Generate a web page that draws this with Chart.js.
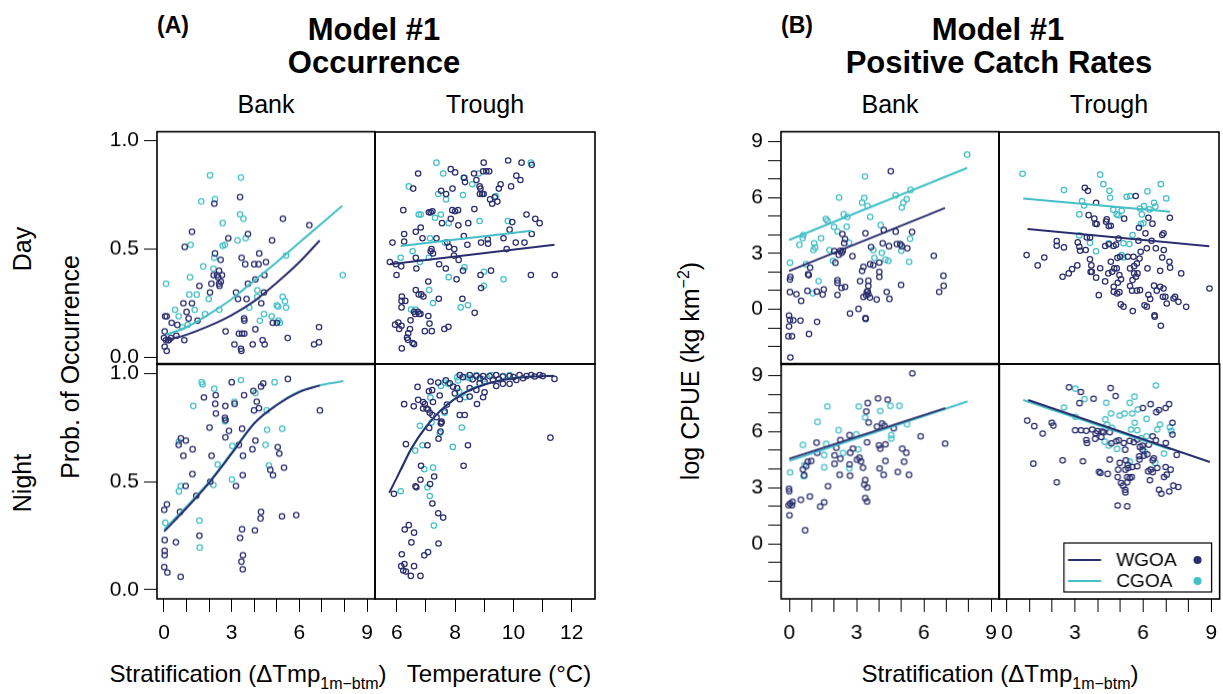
<!DOCTYPE html>
<html>
<head>
<meta charset="utf-8">
<script src="https://cdn.jsdelivr.net/npm/chart.js@4.4.0/dist/chart.umd.min.js"></script>
<style>
body{margin:0;background:#fff;}
#fig{position:relative;width:1223px;height:694px;overflow:hidden;font-family:"Liberation Sans",Arial,Helvetica,sans-serif;color:#000;}
#fig canvas{position:absolute;}
.t{position:absolute;white-space:nowrap;line-height:1;transform:translate(-50%,-50%);}
.r{transform:translate(-50%,-50%) rotate(-90deg);}
.b{font-weight:bold;}
.s{font-size:16px;position:relative;top:7px;}
.sp{font-size:16px;position:relative;top:-10px;}
</style>
</head>
<body>
<div id="fig">
  <div class="t b" style="left:173px;top:25px;font-size:23px">(A)</div>
  <div class="t b" style="left:374px;top:29px;font-size:31px">Model #1</div>
  <div class="t b" style="left:374px;top:62px;font-size:31px">Occurrence</div>
  <div class="t b" style="left:797px;top:25px;font-size:23px">(B)</div>
  <div class="t b" style="left:998px;top:29px;font-size:31px">Model #1</div>
  <div class="t b" style="left:999px;top:62px;font-size:31px">Positive Catch Rates</div>

  <div class="t" style="left:266px;top:104px;font-size:25px">Bank</div>
  <div class="t" style="left:485px;top:104px;font-size:25px">Trough</div>
  <div class="t" style="left:890px;top:104px;font-size:25px">Bank</div>
  <div class="t" style="left:1109px;top:104px;font-size:25px">Trough</div>

  <div class="t r" style="left:22px;top:249px;font-size:25px">Day</div>
  <div class="t r" style="left:22px;top:483px;font-size:25px">Night</div>
  <div class="t r" style="left:70px;top:367px;font-size:25px">Prob. of Occurrence</div>
  <div class="t r" style="left:690px;top:371px;font-size:25px">log CPUE (kg km<span class="sp">−2</span>)</div>

  <div class="t" style="left:248px;top:674px;font-size:24px">Stratification (ΔTmp<span class="s">1m−btm</span>)</div>
  <div class="t" style="left:499px;top:674px;font-size:24px">Temperature (°C)</div>
  <div class="t" style="left:1000px;top:674px;font-size:24px">Stratification (ΔTmp<span class="s">1m−btm</span>)</div>
</div>
<script>
// ---- tick values ----
const occYTicks = [0, 0.5, 1];
const strTicks = [0, 1, 2, 3, 4, 5, 6, 7, 8, 9];
const strLabels = [0, 3, 6, 9];
const tempTicks = [6, 7, 8, 9, 10, 11, 12];
const tempLabels = [6, 8, 10, 12];
const cpueYTicks = [-2, -1, 0, 1, 2, 3, 4, 5, 6, 7, 8, 9];
const cpueYLabels = [0, 3, 6, 9];
const seriesNames = ['WGOA', 'CGOA'];

// ---- (A) occurrence, day, bank ----
const occDayBankW = [[3.37,0.74],[2.23,0.71],[1.24,0.58],[5.27,0.64],[6.44,0.61],[0.92,0.51],[2.85,0.55],[3.72,0.57],[4.79,0.54],[2.26,0.48],[2.51,0.45],[3.44,0.46],[4.22,0.48],[3.6,0.43],[4.0,0.43],[4.19,0.43],[4.52,0.44],[2.44,0.40],[2.2,0.38],[2.35,0.38],[2.57,0.38],[2.4,0.37],[2.1,0.34],[2.44,0.34],[2.52,0.35],[2.46,0.33],[1.57,0.33],[2.04,0.30],[3.72,0.34],[4.05,0.36],[4.45,0.38],[3.19,0.30],[3.28,0.27],[3.66,0.27],[4.43,0.30],[4.31,0.25],[0.86,0.25],[1.24,0.25],[1.0,0.21],[1.09,0.18],[1.49,0.17],[0.34,0.16],[0.59,0.15],[0.05,0.19],[0.12,0.19],[0.03,0.12],[0.0,0.09],[0.09,0.08],[0.21,0.08],[0.03,0.05],[0.12,0.03],[0.19,0.08],[0.31,0.09],[0.55,0.10],[0.9,0.08],[2.73,0.12],[3.32,0.11],[3.46,0.11],[3.56,0.11],[3.55,0.18],[3.56,0.17],[3.41,0.04],[3.43,0.03],[3.12,0.06],[3.93,0.06],[4.05,0.13],[4.37,0.08],[4.46,0.06],[4.82,0.16],[5.0,0.16],[5.48,0.09],[6.65,0.06],[6.87,0.07],[6.87,0.14]];
const occDayBankC = [[2.04,0.84],[3.41,0.83],[1.65,0.72],[2.26,0.73],[3.37,0.66],[3.52,0.64],[2.6,0.62],[1.18,0.52],[2.6,0.515],[2.7,0.52],[3.26,0.54],[3.62,0.55],[2.23,0.46],[5.41,0.47],[7.92,0.38],[0.09,0.34],[1.74,0.42],[2.19,0.41],[1.15,0.37],[1.12,0.29],[1.45,0.29],[1.98,0.27],[0.49,0.22],[0.65,0.19],[1.36,0.22],[1.82,0.20],[2.45,0.22],[0.81,0.14],[1.05,0.15],[4.14,0.31],[4.13,0.28],[3.78,0.23],[4.43,0.2],[4.25,0.17],[4.77,0.19],[5.0,0.24],[5.06,0.235],[5.26,0.28],[5.36,0.26],[5.41,0.23],[5.07,0.17],[5.14,0.16]];
const occDayBankWFit = [[0.1,0.08],[1,0.105],[2,0.145],[3,0.195],[4,0.26],[5,0.345],[6,0.44],[6.9,0.54]];
const occDayBankCFit = [[0.1,0.105],[1,0.14],[2,0.20],[3,0.27],[4,0.355],[5,0.44],[6,0.53],[7,0.62],[7.9,0.70]];

// ---- (A) occurrence, day, trough ----
const occDayTroughW = [[9.82,0.91],[8.98,0.90],[10.28,0.90],[10.63,0.89],[6.73,0.85],[7.85,0.87],[8.0,0.855],[8.3,0.83],[8.34,0.81],[8.65,0.85],[8.96,0.86],[9.07,0.86],[9.17,0.86],[8.73,0.82],[8.84,0.79],[8.87,0.78],[8.85,0.755],[8.93,0.755],[8.98,0.755],[10.1,0.84],[10.24,0.82],[9.56,0.80],[9.5,0.78],[9.92,0.79],[6.56,0.78],[7.52,0.77],[7.69,0.755],[7.91,0.78],[9.2,0.73],[9.36,0.74],[9.45,0.72],[9.27,0.71],[6.22,0.68],[7.1,0.67],[7.16,0.67],[7.22,0.675],[7.9,0.68],[8.0,0.675],[8.1,0.68],[8.66,0.685],[7.55,0.62],[7.85,0.64],[8.11,0.61],[8.45,0.62],[10.45,0.66],[10.75,0.64],[10.9,0.62],[9.96,0.625],[9.87,0.59],[10.63,0.57],[6.82,0.60],[6.65,0.58],[6.25,0.57],[6.25,0.535],[6.88,0.55],[7.36,0.55],[8.3,0.56],[9.12,0.545],[8.89,0.53],[9.13,0.525],[9.66,0.55],[10.08,0.53],[10.38,0.53],[5.85,0.53],[7.19,0.50],[7.24,0.48],[7.16,0.49],[7.73,0.53],[7.79,0.51],[7.97,0.50],[7.96,0.47],[8.42,0.52],[9.77,0.50],[5.76,0.44],[5.97,0.43],[6.15,0.42],[5.99,0.38],[6.65,0.46],[6.67,0.41],[7.45,0.43],[7.68,0.41],[8.12,0.45],[8.27,0.40],[9.23,0.40],[8.87,0.38],[8.05,0.36],[7.08,0.35],[10.6,0.38],[11.42,0.38],[8.89,0.32],[6.65,0.31],[6.75,0.29],[6.84,0.29],[6.91,0.28],[6.17,0.28],[6.16,0.26],[6.29,0.26],[6.16,0.23],[7.44,0.27],[8.25,0.27],[6.59,0.21],[6.72,0.21],[6.77,0.20],[6.81,0.20],[6.63,0.20],[7.08,0.19],[8.67,0.205],[6.47,0.17],[7.12,0.155],[5.94,0.15],[6.05,0.16],[6.16,0.145],[6.08,0.13],[6.39,0.11],[6.45,0.13],[6.35,0.09],[6.38,0.08],[6.54,0.065],[6.59,0.06],[6.96,0.12],[7.2,0.12],[7.63,0.13],[7.77,0.14],[6.17,0.04]];
const occDayTroughC = [[7.36,0.90],[7.59,0.85],[6.41,0.79],[8.33,0.83],[8.59,0.80],[8.81,0.85],[10.6,0.90],[7.42,0.755],[7.69,0.73],[8.27,0.75],[9.39,0.745],[6.75,0.66],[6.82,0.66],[7.51,0.66],[7.31,0.645],[7.78,0.62],[8.84,0.63],[9.81,0.63],[7.14,0.55],[7.65,0.53],[6.54,0.49],[6.13,0.46],[7.1,0.46],[6.79,0.44],[8.32,0.415],[8.99,0.395],[7.78,0.37],[9.66,0.36],[8.99,0.33],[7.11,0.31],[7.24,0.25],[6.49,0.22],[6.64,0.22],[8.19,0.23],[8.44,0.24]];
const occDayTroughWFit = [[5.76,0.43],[8.6,0.475],[11.41,0.52]];
const occDayTroughCFit = [[6.13,0.514],[8.4,0.55],[10.63,0.585]];

// ---- (A) occurrence, night, bank ----
const occNightBankW = [[3.0,0.96],[5.49,0.975],[4.3,0.94],[4.4,0.955],[1.77,0.89],[2.29,0.90],[3.55,0.90],[3.96,0.92],[2.27,0.86],[2.72,0.85],[3.13,0.86],[4.11,0.87],[4.21,0.84],[3.99,0.83],[6.91,0.83],[2.3,0.815],[2.7,0.795],[2.73,0.785],[2.02,0.75],[2.88,0.735],[3.46,0.745],[2.72,0.705],[0.75,0.70],[0.97,0.69],[0.65,0.67],[1.27,0.65],[0.86,0.62],[2.11,0.62],[3.32,0.67],[4.05,0.69],[3.92,0.65],[5.04,0.66],[5.11,0.63],[3.5,0.62],[4.71,0.555],[5.32,0.565],[4.83,0.53],[1.26,0.535],[3.49,0.53],[0.96,0.48],[3.19,0.48],[2.05,0.50],[1.43,0.435],[0.71,0.36],[0.13,0.395],[0.01,0.37],[4.3,0.36],[4.28,0.33],[5.23,0.34],[5.86,0.345],[1.57,0.25],[3.46,0.28],[4.03,0.275],[3.37,0.24],[0.53,0.22],[0.03,0.23],[0.03,0.18],[0.03,0.16],[0.01,0.105],[0.15,0.08],[0.74,0.06],[3.5,0.16],[3.43,0.13],[3.49,0.095]];
const occNightBankC = [[1.67,0.96],[1.71,0.95],[2.23,0.93],[3.41,0.97],[4.9,0.96],[4.05,0.91],[3.12,0.87],[1.3,0.85],[2.7,0.78],[4.55,0.83],[4.57,0.74],[5.24,0.745],[4.5,0.67],[0.66,0.685],[0.66,0.455],[0.74,0.48],[3.03,0.665],[2.38,0.58],[4.65,0.575],[3.01,0.51],[2.19,0.485],[0.06,0.31],[1.57,0.32],[1.58,0.195]];
const occNightBankWFit = [[0.01,0.27],[1,0.378],[2,0.495],[3,0.63],[4,0.77],[5,0.855],[6,0.915],[6.9,0.945]];
const occNightBankCFit = [[0.01,0.28],[1,0.385],[2,0.50],[3,0.635],[4,0.77],[5,0.856],[6,0.918],[7,0.948],[7.95,0.965]];

// ---- (A) occurrence, night, trough ----
const occNightTroughW = [[6.71,0.94],[7.16,0.965],[7.42,0.96],[7.68,0.97],[7.1,0.92],[7.21,0.925],[7.47,0.90],[6.25,0.86],[6.73,0.88],[6.9,0.87],[6.96,0.86],[7.24,0.87],[6.58,0.85],[6.9,0.84],[7.02,0.84],[7.07,0.835],[7.13,0.82],[7.22,0.81],[7.36,0.80],[7.53,0.775],[7.51,0.77],[7.11,0.75],[7.43,0.70],[6.31,0.675],[7.05,0.67],[8.16,0.81],[8.33,0.81],[8.44,0.67],[8.29,0.575],[6.83,0.575],[7.28,0.525],[6.81,0.51],[6.64,0.48],[6.67,0.475],[7.14,0.49],[7.22,0.40],[7.42,0.355],[7.59,0.335],[6.41,0.30],[6.27,0.28],[6.59,0.265],[6.5,0.22],[7.43,0.215],[7.07,0.175],[6.94,0.16],[6.17,0.165],[6.15,0.11],[6.26,0.12],[6.22,0.09],[6.31,0.085],[6.59,0.11],[6.48,0.065],[6.81,0.065],[5.9,0.445],[11.27,0.705],[11.41,0.977],[8.16,0.995],[8.27,0.985],[8.5,0.995],[8.73,0.99],[8.96,0.99],[9.18,0.99],[9.41,0.995],[9.64,0.988],[9.87,0.99],[10.21,0.995],[10.61,0.995],[10.73,0.988],[11.01,0.99],[10.9,0.995],[9.01,0.965],[8.84,0.957],[9.41,0.944],[9.64,0.954],[9.87,0.954],[10.1,0.972],[10.33,0.98],[8.5,0.934],[8.73,0.926],[9.01,0.915],[8.96,0.892],[8.75,0.861],[8.07,0.934],[7.99,0.91],[8.16,0.883],[8.5,0.895],[7.72,0.858],[7.64,0.827],[7.53,0.779],[7.5,0.733],[7.82,0.957],[7.93,0.941],[9.3,0.97],[9.5,0.975],[10.0,0.985],[10.45,0.99],[8.6,0.975],[8.85,0.98]];
const occNightTroughC = [[6.13,0.457],[6.79,0.76],[7.15,0.89],[7.51,0.944],[7.76,0.954],[8.07,0.985],[8.39,0.985],[8.14,0.918],[8.35,0.892],[7.64,0.82],[7.47,0.725],[8.23,0.752],[7.92,0.662],[6.88,0.67],[6.63,0.645],[6.94,0.559],[7.24,0.566],[7.05,0.475],[7.13,0.435],[7.27,0.298],[8.73,0.995],[9.24,0.995],[9.64,0.99],[9.87,0.995],[8.96,0.975],[7.64,0.96],[8.1,0.97],[8.5,0.98],[7.19,0.775]];
const occNightTroughWFit = [[5.74,0.45],[6.0,0.52],[6.5,0.655],[7.0,0.755],[7.5,0.83],[8.0,0.885],[8.5,0.925],[9.0,0.95],[9.5,0.968],[10,0.98],[10.5,0.987],[11.4,0.992]];
const occNightTroughCFit = [[6.16,0.56],[6.5,0.655],[7.0,0.755],[7.5,0.832],[8.0,0.887],[8.5,0.927],[9.0,0.952],[9.5,0.969],[10,0.981],[10.6,0.988]];

// ---- (B) catch rates, day, bank ----
const cpueDayBankW = [[4.54,7.41],[2.38,4.04],[2.5,3.77],[2.46,3.55],[3.41,4.08],[4.23,4.25],[4.76,4.17],[5.49,4.15],[4.18,3.54],[4.46,3.39],[4.81,3.5],[4.96,3.5],[5.03,3.39],[3.66,3.34],[5.28,3.27],[2.02,3.12],[2.28,3.14],[2.4,3.14],[2.22,2.93],[2.35,3.03],[2.83,2.85],[2.07,2.5],[0.94,2.24],[0.85,1.88],[0.88,1.83],[3.26,2.06],[3.32,2.28],[3.62,2.42],[3.76,2.37],[4.03,2.51],[4.03,2.01],[4.03,1.74],[0.06,1.74],[0.04,1.6],[0.04,0.92],[0.33,0.81],[0.54,0.45],[0.82,0.99],[1.24,0.95],[1.5,0.79],[1.55,1.06],[2.16,1.56],[2.16,1.42],[2.5,1.2],[2.34,1.15],[2.16,0.77],[3.17,1.51],[3.54,1.53],[3.54,1.26],[3.51,0.97],[3.54,0.81],[3.61,0.63],[3.32,0.66],[3.44,0.75],[3.47,0.93],[3.91,0.52],[4.36,0.93],[4.48,0.56],[5.0,1.31],[6.46,2.87],[6.89,1.8],[6.9,1.26],[6.7,0.93],[3.1,0.02],[2.72,-0.23],[3.41,-0.47],[3.42,-0.52],[0.0,-0.34],[0.04,-0.57],[0.19,-0.59],[0.51,-0.61],[1.25,-0.68],[0.0,-0.92],[-0.03,-1.45],[0.13,-1.45],[0.89,-1.33],[0.06,-2.59]];
const cpueDayBankC = [[7.95,8.31],[3.39,7.13],[2.23,6.0],[3.36,5.98],[3.26,5.73],[3.5,5.55],[4.76,6.12],[5.42,6.41],[5.25,5.91],[5.1,5.73],[5.03,5.46],[2.44,5.1],[2.6,4.96],[3.62,4.96],[1.64,4.85],[1.71,4.76],[2.01,4.42],[2.16,4.18],[2.57,4.43],[4.09,4.52],[0.64,3.99],[0.61,3.82],[1.43,3.81],[0.46,3.46],[1.12,3.54],[1.16,3.32],[1.09,3.18],[1.8,3.18],[2.68,3.57],[5.4,3.79],[4.97,3.48],[5.01,3.14],[3.76,3.18],[4.14,3.03],[4.3,2.67],[4.43,2.6],[3.81,2.76],[1.96,2.6],[5.36,2.55],[0.04,2.5],[0.76,2.42],[1.32,1.51],[1.06,0.86]];
const cpueDayBankWFit = [[0,2.06],[6.96,5.44]];
const cpueDayBankCFit = [[0,3.72],[7.95,7.59]];

// ---- (B) catch rates, day, trough ----
const cpueDayTroughW = [[3.44,6.53],[3.58,6.37],[5.69,6.09],[3.94,5.73],[3.61,5.06],[3.86,4.87],[3.91,4.6],[3.97,4.58],[4.41,4.83],[4.38,4.71],[4.5,4.47],[4.59,4.49],[5.18,4.87],[6.25,4.92],[6.43,4.6],[7.2,4.92],[5.83,4.38],[6.12,4.08],[6.86,3.99],[6.92,4.08],[3.53,3.86],[3.67,3.86],[2.2,3.66],[2.2,3.41],[2.52,3.32],[3.13,3.59],[3.2,3.36],[3.23,3.14],[3.48,3.18],[4.34,3.4],[4.5,3.49],[4.71,3.4],[4.82,3.47],[4.93,3.8],[5.81,3.68],[6.39,3.68],[6.18,3.27],[6.58,3.27],[6.93,3.18],[0.87,2.91],[1.36,2.35],[1.65,2.78],[3.67,2.68],[3.73,2.35],[3.7,2.0],[4.12,2.2],[4.59,2.55],[4.88,2.76],[5.0,2.82],[5.34,2.82],[5.59,2.82],[5.91,3.09],[5.86,2.72],[5.74,2.45],[5.62,2.31],[6.21,2.19],[6.86,2.78],[7.18,2.55],[7.21,2.23],[6.77,2.06],[2.46,1.74],[2.73,1.92],[2.88,2.15],[3.11,2.35],[3.75,2.01],[3.94,1.69],[4.34,1.49],[4.48,1.92],[4.65,2.01],[4.74,2.19],[4.85,2.19],[4.97,1.83],[5.04,1.6],[4.9,1.42],[4.72,1.2],[4.72,0.93],[4.87,0.84],[4.97,0.91],[5.44,2.19],[5.62,1.92],[5.77,1.92],[5.7,1.74],[5.55,1.56],[5.44,1.24],[5.53,0.99],[5.74,0.99],[5.88,1.02],[6.25,0.77],[6.33,0.54],[6.5,1.26],[6.62,0.99],[6.77,1.2],[6.92,1.11],[7.0,0.66],[7.06,0.3],[6.89,0.66],[7.36,0.57],[7.43,0.66],[7.58,0.39],[7.7,1.92],[7.92,0.12],[8.95,1.11],[4.06,0.75],[5.03,0.25],[5.15,0.13],[5.56,-0.11],[6.08,0.2],[6.18,0.13],[6.52,-0.34],[6.53,-0.41],[6.8,-0.9]];
const cpueDayTroughC = [[0.69,7.29],[2.52,6.41],[4.12,7.24],[4.26,6.73],[4.53,6.37],[4.56,6.0],[5.29,6.05],[5.44,6.09],[6.21,6.34],[6.8,6.73],[7.04,5.96],[3.32,5.82],[3.41,5.58],[4.7,5.35],[4.85,5.1],[5.07,5.3],[4.93,5.05],[3.2,5.1],[5.88,5.42],[6.06,5.55],[6.3,5.37],[6.5,5.73],[6.56,5.52],[5.96,5.1],[5.92,4.58],[6.03,4.62],[3.2,3.97],[3.67,3.57],[4.5,3.54],[5.15,3.54],[5.41,3.5],[5.55,3.99],[3.94,3.11],[5.07,2.91],[5.15,2.78]];
const cpueDayTroughWFit = [[0.91,4.31],[8.94,3.39]];
const cpueDayTroughCFit = [[0.72,5.96],[7.21,5.24]];

// ---- (B) catch rates, night, bank ----
const cpueNightBankW = [[5.49,9.12],[3.96,7.78],[4.39,7.71],[3.5,7.53],[3.44,7.08],[3.54,6.49],[1.22,5.41],[1.25,4.87],[2.28,5.54],[2.1,5.14],[2.69,5.81],[3.47,5.43],[3.91,6.27],[4.14,6.43],[4.24,6.31],[4.66,6.18],[4.0,5.27],[4.06,5.09],[4.29,5.32],[5.86,5.75],[6.95,5.36],[5.04,5.09],[5.22,4.87],[2.84,5.09],[2.72,4.87],[2.02,4.73],[2.02,4.28],[2.28,4.55],[3.13,4.6],[3.02,4.5],[3.2,4.41],[3.29,4.07],[2.69,4.25],[2.71,3.64],[4.03,4.03],[4.21,3.69],[4.29,4.43],[5.12,4.39],[4.84,3.84],[5.34,3.69],[2.25,3.69],[0.61,3.98],[0.76,4.16],[0.83,4.39],[0.98,4.43],[0.67,3.66],[-0.01,2.94],[0.0,2.81],[-0.03,2.06],[0.04,2.15],[0.15,2.24],[0.12,2.06],[0.01,1.52],[0.52,2.35],[0.92,2.53],[1.38,1.99],[1.56,2.22],[1.73,3.08],[3.39,3.41],[3.48,3.01],[3.35,3.17],[3.39,2.44],[3.47,2.26],[0.71,0.72]];
const cpueNightBankC = [[1.7,7.35],[3.1,7.35],[4.06,7.11],[4.51,7.38],[4.91,7.38],[1.26,6.52],[3.39,6.76],[2.2,6.08],[2.99,5.86],[0.61,5.29],[1.65,5.34],[3.08,5.05],[1.56,4.75],[2.4,4.86],[1.56,4.09],[2.68,4.03],[0.68,4.21],[0.64,3.62],[0.04,3.82],[4.55,5.81],[4.55,5.63],[5.25,6.4]];
const cpueNightBankWFit = [[0,4.55],[6.96,7.26]];
const cpueNightBankCFit = [[0,4.43],[7.95,7.62]];

// ---- (B) catch rates, night, trough ----
const cpueNightTroughW = [[2.74,8.39],[3.26,8.14],[3.2,7.54],[3.82,7.78],[4.57,8.35],[4.79,7.92],[5.99,7.28],[6.33,7.49],[7.14,7.49],[6.99,7.28],[6.58,7.06],[6.7,7.17],[0.9,6.61],[1.21,6.31],[1.58,5.91],[1.98,6.49],[2.05,6.34],[3.01,6.09],[3.27,6.09],[3.5,6.06],[3.76,6.13],[3.91,5.93],[4.0,6.04],[4.19,6.02],[4.26,5.98],[3.5,5.57],[3.53,5.41],[3.89,5.63],[4.16,5.73],[4.53,5.99],[4.6,5.39],[4.82,5.5],[4.93,5.55],[5.15,5.41],[5.21,5.05],[5.41,5.52],[5.59,5.45],[5.74,5.59],[5.86,5.2],[5.97,5.27],[5.97,5.05],[6.25,5.32],[6.42,5.77],[6.56,5.55],[7.29,6.49],[7.29,5.86],[7.0,5.41],[5.83,4.7],[6.03,4.73],[6.18,4.8],[6.47,4.59],[6.42,4.48],[1.17,4.3],[2.46,4.48],[3.35,4.43],[4.53,4.52],[4.97,4.34],[5.24,4.48],[5.32,4.23],[5.52,4.12],[5.74,4.16],[5.84,4.52],[4.9,3.98],[5.22,3.98],[5.34,4.07],[4.88,3.58],[5.3,3.58],[5.41,3.53],[5.5,3.58],[5.03,3.26],[5.3,3.3],[5.12,3.12],[5.21,2.9],[5.22,2.76],[4.06,3.87],[4.12,3.8],[4.44,3.75],[6.22,3.89],[6.33,3.98],[6.42,3.84],[6.62,4.07],[6.99,4.12],[7.21,3.98],[7.04,3.71],[6.92,3.58],[6.3,3.41],[6.7,2.9],[6.8,2.69],[7.15,2.81],[7.33,3.12],[7.55,3.05],[7.48,4.77],[2.2,3.3],[4.88,2.06],[5.3,2.01]];
const cpueNightTroughC = [[6.56,8.49],[3.02,8.32],[3.42,7.76],[4.38,7.56],[5.41,7.56],[5.62,7.89],[2.52,7.31],[3.02,6.81],[4.34,6.67],[4.59,6.99],[4.97,6.88],[5.18,6.99],[5.52,6.99],[5.77,7.2],[6.15,6.7],[6.74,6.4],[6.62,6.13],[7.18,6.25],[7.24,6.04],[4.41,6.38],[4.63,6.22],[5.63,6.49],[5.47,6.13],[5.74,6.09],[4.31,5.48],[4.49,5.27],[4.85,5.09],[5.91,5.66],[6.15,5.77],[6.06,4.95],[6.92,4.84],[5.41,4.41],[6.53,4.34]];
const cpueNightTroughWFit = [[0.94,7.71],[8.94,4.39]];
const cpueNightTroughCFit = [[0.72,7.71],[7.21,5.05]];

const NAVY = '#2b2e6e';
const TEAL = '#45bfc7';
Chart.defaults.font.family = '"Liberation Sans", Arial, Helvetica, sans-serif';

function toPts(a) { return a.map(p => ({x: p[0], y: p[1]})); }

function pointSet(a, col) {
  return {data: toPts(a), borderColor: col, pointBorderColor: col,
    pointBackgroundColor: 'rgba(0,0,0,0)', pointRadius: 2.7, pointBorderWidth: 1.25, order: 2};
}
function fitSet(a, col, curved) {
  return {data: toPts(a), showLine: true, borderColor: col, borderWidth: 2, pointRadius: 0,
    cubicInterpolationMode: curved ? 'monotone' : 'default', tension: curved ? 0.4 : 0, order: 1};
}

function axis(min, max, ticks, labeled, fmt, show, size, isY) {
  return {
    type: 'linear', min: min, max: max,
    afterBuildTicks: s => { s.ticks = ticks.map(v => ({value: v})); },
    afterFit: s => { if (isY) s.width = size; else s.height = size; },
    ticks: {display: show, autoSkip: false, maxRotation: 0, minRotation: 0,
      padding: isY ? 5 : 9, color: '#000', font: {size: 21},
      callback: v => labeled.includes(v) ? fmt(v) : ''},
    grid: {display: show, drawOnChartArea: false, drawTicks: true, tickLength: 13, color: '#000', lineWidth: 1},
    border: {display: false}
  };
}

const boxPlugin = {
  id: 'box',
  afterDatasetsDraw(c) {
    const a = c.chartArea, ctx = c.ctx;
    ctx.save();
    ctx.strokeStyle = '#000';
    ctx.lineWidth = 1.6;
    ctx.strokeRect(a.left, a.top, a.right - a.left, a.bottom - a.top);
    ctx.restore();
  }
};

const legendPlugin = {
  id: 'lgd',
  afterDraw(c) {
    const a = c.chartArea, ctx = c.ctx;
    const L = a.right - 155, T = a.bottom - 56;
    ctx.save();
    ctx.fillStyle = '#fff';
    ctx.fillRect(L, T, 147, 49);
    ctx.strokeStyle = '#000';
    ctx.lineWidth = 1.2;
    ctx.strokeRect(L, T, 147, 49);
    [NAVY, TEAL].forEach((col, i) => {
      const y = T + 17 + i * 21;
      ctx.strokeStyle = col;
      ctx.lineWidth = 2;
      ctx.beginPath(); ctx.moveTo(L + 4, y); ctx.lineTo(L + 37, y); ctx.stroke();
      ctx.fillStyle = '#000';
      ctx.font = '19px "Liberation Sans", Arial, sans-serif';
      ctx.textAlign = 'left'; ctx.textBaseline = 'middle';
      ctx.fillText(seriesNames[i], L + 52, y + 1);
      ctx.fillStyle = col;
      ctx.beginPath(); ctx.arc(L + 133, y, 4, 0, Math.PI * 2); ctx.fill();
    });
    ctx.restore();
  }
};

const fig = document.getElementById('fig');
const fmt1 = v => v.toFixed(1);
const fmt0 = v => String(v);

function place(cv, left, top, W, H) {
  cv.width = W; cv.height = H;
  cv.style.left = left + 'px';
  cv.style.top = top + 'px';
  cv.style.width = W + 'px'; cv.style.height = H + 'px';
}

function panel(box, padL, padB, xs, ys, w, c, wFit, cFit, curved, extra) {
  const cv = document.createElement('canvas');
  fig.appendChild(cv);
  const cfg = () => ({
    type: 'scatter',
    data: {datasets: [fitSet(wFit, NAVY, curved), fitSet(cFit, TEAL, curved), pointSet(w, NAVY), pointSet(c, TEAL)]},
    options: {
      responsive: false, animation: false, devicePixelRatio: 1,
      layout: {autoPadding: false, padding: {top: 2, right: 2, left: 0, bottom: 0}},
      plugins: {legend: {display: false}, tooltip: {enabled: false}},
      scales: {x: xs(), y: ys()}
    },
    plugins: extra ? [boxPlugin, extra] : [boxPlugin]
  });
  // first pass: measure how far the chart area lands from the wanted box, then correct
  let W = box.w + padL + 2, H = box.h + 2 + padB;
  place(cv, box.l - padL, box.t - 2, W, H);
  let ch = new Chart(cv, cfg());
  const a = ch.chartArea;
  const dl = a.left - padL, dt = a.top - 2, dr = (W - 2) - a.right, db = (H - padB) - a.bottom;
  ch.destroy();
  W = W + dl + dr; H = H + dt + db;
  place(cv, box.l - padL - dl, box.t - 2 - dt, W, H);
  new Chart(cv, cfg());
}

// x axes
const xStr = (show, pb) => () => axis(-0.31, 9.35, strTicks, strLabels, fmt0, show, pb, false);
const xTemp = (show, pb) => () => axis(5.25, 12.8, tempTicks, tempLabels, fmt0, show, pb, false);
const xStrB = (show, pb) => () => axis(-0.36, 9.37, strTicks, strLabels, fmt0, show, pb, false);
const xStrB2 = (show, pb) => () => axis(-0.35, 9.37, strTicks, strLabels, fmt0, show, pb, false);
// y axes
const yOccTop = (show, pl) => () => axis(-0.032, 1.042, occYTicks, occYTicks, fmt1, show, pl, true);
const yOccBot = (show, pl) => () => axis(-0.042, 1.046, occYTicks, occYTicks, fmt1, show, pl, true);
const yCpueTop = (show, pl) => () => axis(-2.96, 9.54, cpueYTicks, cpueYLabels, fmt0, show, pl, true);
const yCpueBot = (show, pl) => () => axis(-2.95, 9.64, cpueYTicks, cpueYLabels, fmt0, show, pl, true);

panel({l: 157, t: 132, w: 218, h: 232}, 62, 2, xStr(false, 2), yOccTop(true, 62), occDayBankW, occDayBankC, occDayBankWFit, occDayBankCFit, true);
panel({l: 375, t: 132, w: 220, h: 232}, 2, 2, xTemp(false, 2), yOccTop(false, 2), occDayTroughW, occDayTroughC, occDayTroughWFit, occDayTroughCFit, false);
panel({l: 157, t: 364, w: 218, h: 235}, 62, 55, xStr(true, 55), yOccBot(true, 62), occNightBankW, occNightBankC, occNightBankWFit, occNightBankCFit, true);
panel({l: 375, t: 364, w: 220, h: 235}, 2, 55, xTemp(true, 55), yOccBot(false, 2), occNightTroughW, occNightTroughC, occNightTroughWFit, occNightTroughCFit, true);

panel({l: 781, t: 132, w: 218, h: 232}, 50, 2, xStrB(false, 2), yCpueTop(true, 50), cpueDayBankW, cpueDayBankC, cpueDayBankWFit, cpueDayBankCFit, false);
panel({l: 999, t: 132, w: 220, h: 232}, 2, 2, xStrB2(false, 2), yCpueTop(false, 2), cpueDayTroughW, cpueDayTroughC, cpueDayTroughWFit, cpueDayTroughCFit, false);
panel({l: 781, t: 364, w: 218, h: 235}, 50, 55, xStrB(true, 55), yCpueBot(true, 50), cpueNightBankW, cpueNightBankC, cpueNightBankWFit, cpueNightBankCFit, false);
panel({l: 999, t: 364, w: 220, h: 235}, 2, 55, xStrB2(true, 55), yCpueBot(false, 2), cpueNightTroughW, cpueNightTroughC, cpueNightTroughWFit, cpueNightTroughCFit, false, legendPlugin);
</script>
</body>
</html>
